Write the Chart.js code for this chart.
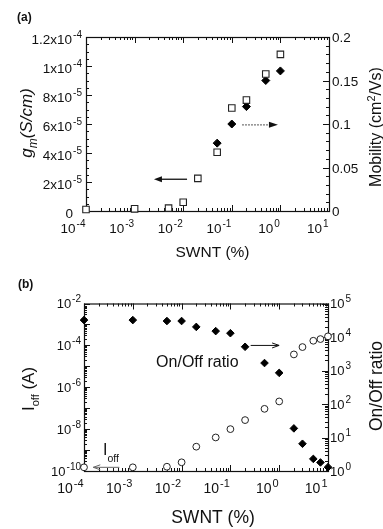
<!DOCTYPE html>
<html>
<head>
<meta charset="utf-8">
<script src="https://cdn.jsdelivr.net/npm/chart.js@4/dist/chart.umd.min.js"></script>
<style>
  html, body { margin: 0; padding: 0; background: #fff; }
  #wrap { position: relative; width: 383px; height: 529px; }
  canvas { position: absolute; left: 0; }
</style>
</head>
<body>
<div id="wrap">
  <canvas id="chart-a" width="383" height="260" style="top:0"></canvas>
  <canvas id="chart-b" width="383" height="269" style="top:260px"></canvas>
</div>
<script>
// ---- data, panel (a) ----
const swntA = [1e-4, 1e-3, 5e-3, 1e-2, 2e-2, 5e-2, 0.1, 0.2, 0.5, 1];
const gmValues = [1e-6, 1.5e-6, 2e-6, 6e-6, 2.25e-5, 4.05e-5, 7.1e-5, 7.65e-5, 9.45e-5, 1.08e-4];
const swntMobility = [5e-2, 0.1, 0.2, 0.5, 1];
const mobilityValues = [0.078, 0.1, 0.12, 0.15, 0.161];

// ---- data, panel (b) ----
const swntB = [1e-4, 1e-3, 5e-3, 1e-2, 2e-2, 5e-2, 0.1, 0.2, 0.5, 1, 2, 3, 5, 7, 10];
const ioffValues = [1.5e-10, 1.5e-10, 1.6e-10, 2.6e-10, 1.45e-9, 4e-9, 1e-8, 2.7e-8, 9.3e-8, 2.1e-7,
                    3.7e-5, 8.3e-5, 1.66e-4, 2e-4, 2.7e-4];
const onOffValues = [3.2e4, 3.2e4, 3e4, 3e4, 2e4, 1.5e4, 1.3e4, 5.1e3, 1.67e3, 850,
                     18.7, 6.5, 2.3, 1.8, 1.3];

// ---- tick labels ----
const swntDecades = [-4, -3, -2, -1, 0, 1];
const gmTicks = [0, 2e-5, 4e-5, 6e-5, 8e-5, 1e-4, 1.2e-4];
const gmTickLabels = [['0', ''], ['2x10', '-5'], ['4x10', '-5'], ['6x10', '-5'], ['8x10', '-5'], ['1x10', '-4'], ['1.2x10', '-4']];
const mobilityTicks = [0, 0.05, 0.1, 0.15, 0.2];
const mobilityTickLabels = ['0', '0.05', '0.1', '0.15', '0.2'];
const ioffDecades = [-10, -8, -6, -4, -2];
const ratioDecades = [0, 1, 2, 3, 4, 5];

const FONT = '"Liberation Sans", Arial, Helvetica, sans-serif';
const INK = '#111';

function setFont(ctx, size, style) {
  ctx.font = (style ? style + ' ' : '') + size + 'px ' + FONT;
}

// draw a row of text pieces [text, size, style, dy, gap]; align left/right/center
function drawRuns(ctx, parts, x, y, align) {
  let w = 0;
  const widths = parts.map(p => {
    setFont(ctx, p[1], p[2]);
    const m = ctx.measureText(p[0]).width + (p[4] || 0);
    w += m;
    return m;
  });
  let cx = align === 'right' ? x - w : align === 'center' ? x - w / 2 : x;
  ctx.textAlign = 'left';
  ctx.textBaseline = 'alphabetic';
  parts.forEach((p, i) => {
    setFont(ctx, p[1], p[2]);
    ctx.fillText(p[0], cx + (p[4] || 0), y + (p[3] || 0));
    cx += widths[i];
  });
}

function powLabel(base, exp, size) {
  const parts = [[base, size, '', 0]];
  if (exp !== '') parts.push([exp, Math.round(size * 0.76), '', -Math.round(size * 0.45), 1]);
  return parts;
}

function logMinors(lo, hi) {
  const out = [];
  for (let d = lo; d < hi; d++) {
    for (let k = 2; k <= 9; k++) out.push(k * Math.pow(10, d));
  }
  return out;
}
function linSteps(lo, hi, step) {
  const out = [];
  for (let v = lo; v <= hi + step / 1000; v += step) out.push(v);
  return out;
}
const pows = list => list.map(e => Math.pow(10, e));

function innerTicks(ctx, chart, scaleId, values, len) {
  const s = chart.scales[scaleId];
  const a = chart.chartArea;
  ctx.beginPath();
  values.forEach(v => {
    const p = Math.round(s.getPixelForValue(v)) + 0.5;
    if (s.isHorizontal()) {
      ctx.moveTo(p, a.bottom); ctx.lineTo(p, a.bottom - len);
      ctx.moveTo(p, a.top); ctx.lineTo(p, a.top + len);
    } else if (s.position === 'left') {
      ctx.moveTo(a.left, p); ctx.lineTo(a.left + len, p);
    } else {
      ctx.moveTo(a.right, p); ctx.lineTo(a.right - len, p);
    }
  });
  ctx.stroke();
}

function drawFrame(ctx, chart) {
  const a = chart.chartArea;
  ctx.strokeStyle = INK;
  ctx.lineWidth = 1.2;
  ctx.strokeRect(a.left + 0.5, a.top + 0.5, a.right - a.left, a.bottom - a.top);
  ctx.lineWidth = 1;
}

function arrow(ctx, x1, y, x2, opts) {
  ctx.save();
  ctx.strokeStyle = opts.color || INK;
  ctx.fillStyle = opts.headColor || INK;
  ctx.lineWidth = opts.width || 1;
  if (opts.dash) ctx.setLineDash(opts.dash);
  const dir = x2 > x1 ? 1 : -1;
  ctx.beginPath();
  ctx.moveTo(x1, y);
  ctx.lineTo(x2 - dir * (opts.filled ? opts.len - 1 : 0), y);
  ctx.stroke();
  ctx.setLineDash([]);
  ctx.beginPath();
  ctx.moveTo(x2, y);
  ctx.lineTo(x2 - dir * opts.len, y - opts.half);
  if (opts.filled) {
    ctx.lineTo(x2 - dir * opts.len, y + opts.half);
    ctx.closePath();
    ctx.fill();
  } else {
    ctx.moveTo(x2, y);
    ctx.lineTo(x2 - dir * opts.len, y + opts.half);
    ctx.stroke();
  }
  ctx.restore();
}

function rotatedTitle(ctx, parts, cx, cy, size) {
  ctx.save();
  ctx.translate(cx, cy);
  ctx.rotate(-Math.PI / 2);
  drawRuns(ctx, parts, 0, size * 0.36, 'center');
  ctx.restore();
}

const baseScale = {
  ticks: { display: false },
  grid: { display: false },
  border: { display: false }
};

// ---------------- panel (a) ----------------
const panelA = {
  id: 'panelA',
  beforeDatasetsDraw(chart) {
    const ctx = chart.ctx;
    ctx.save();
    drawFrame(ctx, chart);
    innerTicks(ctx, chart, 'x', pows(swntDecades), 6);
    innerTicks(ctx, chart, 'x', logMinors(-4, 1), 3);
    innerTicks(ctx, chart, 'y', gmTicks, 6);
    innerTicks(ctx, chart, 'y', linSteps(0, 1.2e-4, 5e-6), 3);
    innerTicks(ctx, chart, 'y2', mobilityTicks, 6);
    innerTicks(ctx, chart, 'y2', linSteps(0, 0.2, 0.01), 3);
    ctx.restore();
  },
  afterDraw(chart) {
    const ctx = chart.ctx;
    const { x, y, y2 } = chart.scales;
    ctx.save();
    ctx.fillStyle = INK;
    // tick labels
    gmTicks.forEach((v, i) => {
      const [b, e] = gmTickLabels[i];
      const py = y.getPixelForValue(v);
      drawRuns(ctx, powLabel(b, e, 13.5), e ? 82 : 73, py + 7, 'right');
    });
    mobilityTicks.forEach((v, i) => {
      drawRuns(ctx, [[mobilityTickLabels[i], 13.5, '', 0]], 332, y2.getPixelForValue(v) + 5, 'left');
    });
    swntDecades.forEach(d => {
      drawRuns(ctx, powLabel('10', String(d), 13.5), x.getPixelForValue(Math.pow(10, d)) - 0.5, 232.5, 'right');
    });
    // titles
    drawRuns(ctx, [['SWNT (%)', 15.5, '', 0]], 212.5, 257, 'center');
    rotatedTitle(ctx, [['g', 17, 'italic', 0], ['m', 12, 'italic', 5], ['(S/cm)', 17, 'italic', 0]], 26, 123, 17);
    rotatedTitle(ctx, [['Mobility (cm', 16, '', 0], ['2', 11, '', -6], ['/Vs)', 16, '', 0]], 375, 127, 16);
    drawRuns(ctx, [['(a)', 12, 'bold', 0]], 17, 21, 'left');
    // arrows
    arrow(ctx, x.getPixelForValue(0.012), y.getPixelForValue(2.19e-5), x.getPixelForValue(0.0025),
      { len: 8, half: 3, filled: true, width: 1.3 });
    arrow(ctx, x.getPixelForValue(0.162), y2.getPixelForValue(0.099), x.getPixelForValue(0.89),
      { len: 9, half: 3, filled: true, width: 1.3, color: '#777', dash: [2, 1] });
    ctx.restore();
  }
};

new Chart(document.getElementById('chart-a'), {
  type: 'scatter',
  data: {
    datasets: [
      {
        label: 'gm',
        data: swntA.map((v, i) => ({ x: v, y: gmValues[i] })),
        yAxisID: 'y',
        pointStyle: 'rect',
        radius: 4.6,
        borderWidth: 1.1,
        borderColor: '#222',
        backgroundColor: '#fff',
        clip: false
      },
      {
        label: 'mobility',
        data: swntMobility.map((v, i) => ({ x: v, y: mobilityValues[i] })),
        yAxisID: 'y2',
        pointStyle: 'rectRot',
        radius: 4,
        borderWidth: 1,
        borderColor: '#000',
        backgroundColor: '#000',
        clip: false
      }
    ]
  },
  options: {
    responsive: false,
    animation: false,
    events: [],
    layout: { padding: { top: 37, left: 0, right: 0, bottom: 0 } },
    plugins: { legend: { display: false }, tooltip: { enabled: false } },
    scales: {
      x: { ...baseScale, type: 'logarithmic', min: 1e-4, max: 10, afterFit(s) { s.height = 49; } },
      y: { ...baseScale, position: 'left', min: 0, max: 1.2e-4, afterFit(s) { s.width = 86; } },
      y2: { ...baseScale, position: 'right', min: 0, max: 0.2, afterFit(s) { s.width = 54; } }
    }
  },
  plugins: [panelA]
});

// ---------------- panel (b) ----------------
const panelB = {
  id: 'panelB',
  beforeDatasetsDraw(chart) {
    const ctx = chart.ctx;
    ctx.save();
    drawFrame(ctx, chart);
    innerTicks(ctx, chart, 'x', pows(swntDecades), 6);
    innerTicks(ctx, chart, 'x', logMinors(-4, 1), 3);
    innerTicks(ctx, chart, 'y', pows([-10, -9, -8, -7, -6, -5, -4, -3, -2]), 6);
    innerTicks(ctx, chart, 'y', logMinors(-10, -2), 3);
    innerTicks(ctx, chart, 'y2', pows(ratioDecades), 6);
    innerTicks(ctx, chart, 'y2', logMinors(0, 5), 3);
    ctx.restore();
  },
  afterDraw(chart) {
    const ctx = chart.ctx;
    const { x, y, y2 } = chart.scales;
    ctx.save();
    ctx.fillStyle = INK;
    ioffDecades.forEach(d => {
      drawRuns(ctx, powLabel('10', String(d), 13), 81, y.getPixelForValue(Math.pow(10, d)) + 4.5, 'right');
    });
    ratioDecades.forEach(d => {
      drawRuns(ctx, powLabel('10', String(d), 13), 330, y2.getPixelForValue(Math.pow(10, d)) + 4.5, 'left');
    });
    swntDecades.forEach(d => {
      drawRuns(ctx, powLabel('10', String(d), 14), x.getPixelForValue(Math.pow(10, d)) - 0.5, 233, 'right');
    });
    drawRuns(ctx, [['SWNT (%)', 17.5, '', 0]], 213, 263, 'center');
    rotatedTitle(ctx, [['I', 17, '', 0], ['off', 11, '', 5], [' (A)', 17, '', 0]], 28, 129, 17);
    rotatedTitle(ctx, [['On/Off ratio', 17.5, '', 0]], 376, 126, 17.5);
    drawRuns(ctx, [['(b)', 12, 'bold', 0]], 18, 28, 'left');
    // annotations
    drawRuns(ctx, [['On/Off ratio', 16, '', 0]], x.getPixelForValue(0.021), y2.getPixelForValue(1870) + 5.7, 'center');
    arrow(ctx, x.getPixelForValue(0.26), y2.getPixelForValue(5600), x.getPixelForValue(0.995),
      { len: 7, half: 2.5, filled: false, width: 1 });
    drawRuns(ctx, [['I', 16, '', 0], ['off', 10.5, '', 7]], x.getPixelForValue(2.46e-4), y.getPixelForValue(5.7e-10), 'left');
    arrow(ctx, x.getPixelForValue(5.3e-4), y.getPixelForValue(1.5e-10), x.getPixelForValue(1.55e-4),
      { len: 7, half: 2.5, filled: false, width: 1, color: '#666' });
    ctx.restore();
  }
};

new Chart(document.getElementById('chart-b'), {
  type: 'scatter',
  data: {
    datasets: [
      {
        label: 'Ioff',
        data: swntB.map((v, i) => ({ x: v, y: ioffValues[i] })),
        yAxisID: 'y',
        pointStyle: 'circle',
        radius: 3.4,
        borderWidth: 1,
        borderColor: '#222',
        backgroundColor: '#fff',
        clip: false
      },
      {
        label: 'On/Off ratio',
        data: swntB.map((v, i) => ({ x: v, y: onOffValues[i] })),
        yAxisID: 'y2',
        pointStyle: 'rectRot',
        radius: 3.8,
        borderWidth: 1,
        borderColor: '#000',
        backgroundColor: '#000',
        clip: false
      }
    ]
  },
  options: {
    responsive: false,
    animation: false,
    events: [],
    layout: { padding: { top: 43.5, left: 0, right: 0, bottom: 0 } },
    plugins: { legend: { display: false }, tooltip: { enabled: false } },
    scales: {
      x: { ...baseScale, type: 'logarithmic', min: 1e-4, max: 10, afterFit(s) { s.height = 58; } },
      y: { ...baseScale, type: 'logarithmic', position: 'left', min: 1e-10, max: 1e-2, afterFit(s) { s.width = 84; } },
      y2: { ...baseScale, type: 'logarithmic', position: 'right', min: 1, max: 1e5, afterFit(s) { s.width = 55; } }
    }
  },
  plugins: [panelB]
});
</script>
</body>
</html>
